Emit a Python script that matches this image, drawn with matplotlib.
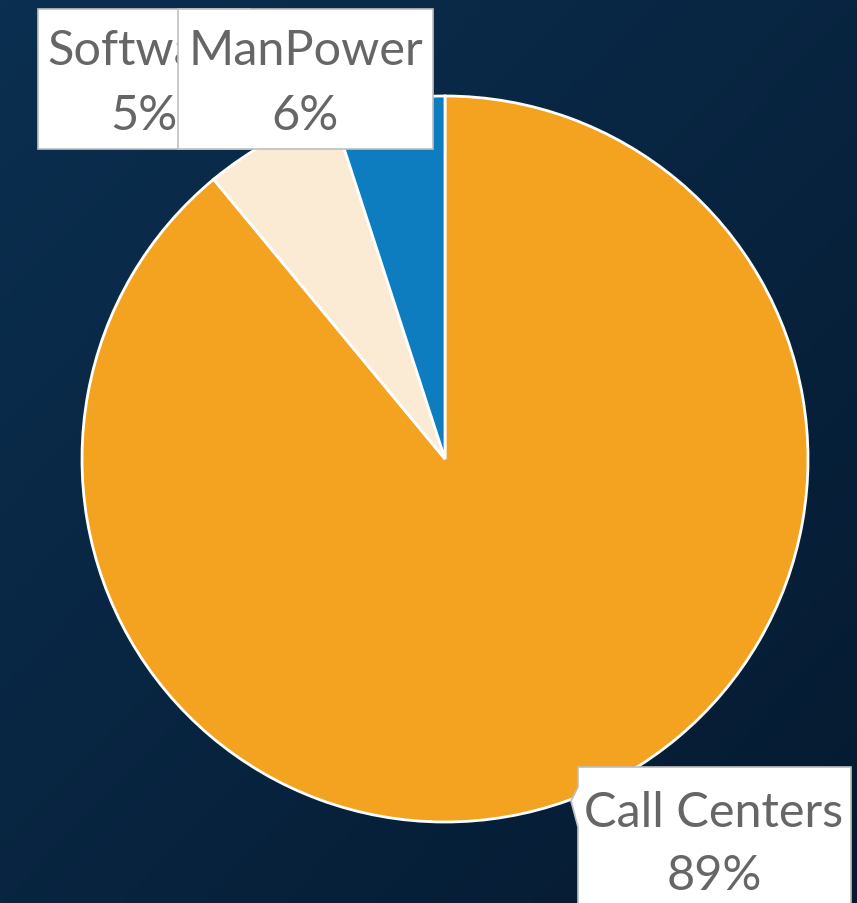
import matplotlib.pyplot as plt
import numpy as np
from matplotlib.patches import Rectangle, Polygon

# spend split, clockwise from 12 o'clock
labels = ['Call Centers', 'ManPower', 'Software']
shares = [89, 6, 5]
colors = ['#F4A321', '#FCEBD4', '#0E7DC0']

W, H = 857, 904
fig = plt.figure(figsize=(W / 100, H / 100), dpi=100)

# dark navy diagonal gradient behind everything
bg = fig.add_axes([0, 0, 1, 1], zorder=0)
xx, yy = np.meshgrid(np.linspace(0, 1, 200), np.linspace(0, 1, 200))
t = (xx + yy) / 2
c0 = np.array([0x0b, 0x2f, 0x50]) / 255
c1 = np.array([0x05, 0x1a, 0x30]) / 255
img = c0[None, None, :] * (1 - t[..., None]) + c1[None, None, :] * t[..., None]
bg.imshow(img, extent=[0, 1, 0, 1], aspect='auto', origin='upper')
bg.axis('off')

# pie, centre at (445, 460) px with radius 363 px
r = 363
ax = fig.add_axes([(445 - r) / W, (H - 460 - r) / H, 2 * r / W, 2 * r / H], zorder=1)
ax.pie(shares, colors=colors, startangle=90, counterclock=False,
       wedgeprops=dict(edgecolor='white', linewidth=2))
ax.set_xlim(-1, 1)
ax.set_ylim(-1, 1)
ax.axis('off')

# overlay in pixel coordinates for the data labels
ov = fig.add_axes([0, 0, 1, 1], zorder=2)
ov.set_xlim(0, W)
ov.set_ylim(H, 0)
ov.axis('off')
ov.patch.set_alpha(0)

font = dict(family='Lato', size=35, color='#666666')
edge = '#BFBFBF'


def label_box(x0, x1, y0, y1, name, pct, base1, base2, z, clip_x1=None):
    box = Rectangle((x0, y0), x1 - x0, y1 - y0, facecolor='white',
                    edgecolor=edge, linewidth=1.2, zorder=z)
    ov.add_patch(box)
    cx = (x0 + x1) / 2
    texts = [ov.text(cx, base1, name, ha='center', va='baseline', zorder=z + 0.5, **font),
             ov.text(cx, base2, f'{pct}%', ha='center', va='baseline', zorder=z + 0.5, **font)]
    if clip_x1 is not None:
        # only the part left of the neighbouring box is visible
        vis = Rectangle((x0, y0), clip_x1 - x0, y1 - y0, transform=ov.transData,
                        visible=False)
        ov.add_patch(vis)
        for tx in texts:
            tx.set_clip_path(vis)


label_box(38, 250, 10, 150, labels[2], shares[2], 65, 130, 3, clip_x1=178)
label_box(178, 433, 10, 150, labels[1], shares[1], 65, 130, 4)

# Call Centers callout with pointer towards its slice
ov.add_patch(Polygon([(578, 768), (851, 768), (851, 910), (578, 910),
                      (578, 828), (571, 802), (578, 788)],
                     closed=True, facecolor='white', edgecolor=edge,
                     linewidth=1.2, zorder=5))
ov.text(714, 827, labels[0], ha='center', va='baseline', zorder=6, **font)
ov.text(714, 890, f'{shares[0]}%', ha='center', va='baseline', zorder=6, **font)

fig.savefig('out.png', dpi=100)
